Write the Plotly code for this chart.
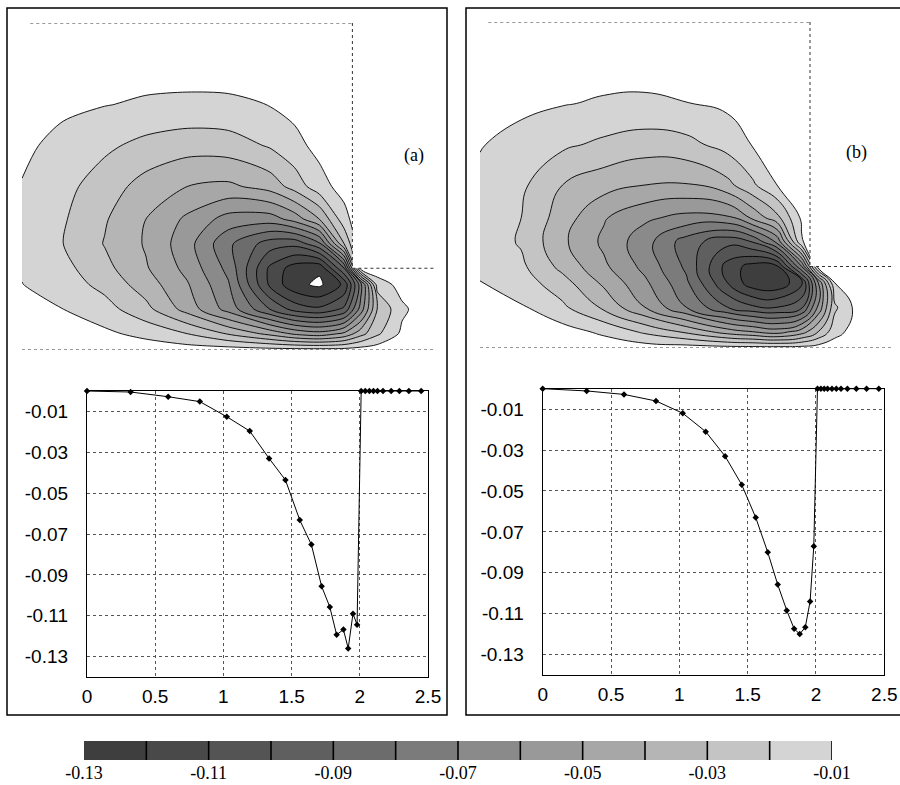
import plotly.graph_objects as go

# ---------------- data ----------------
level_start, level_end, level_step = -0.13, -0.01, 0.01

grid_x = [0, 0.25, 0.5, 0.75, 1.0, 1.25, 1.5, 1.65, 1.8, 1.95, 2.05, 2.15, 2.3, 2.5]
grid_y = [0, 0.1, 0.25, 0.4, 0.5, 0.65, 0.8, 1.0, 1.25, 1.5, 1.75, 2.0]

# panel (a) field, rows follow grid_y, columns follow grid_x
field_a = [
    [-0.002, -0.002, -0.003, -0.004, -0.005, -0.005, -0.006, -0.006, -0.006, -0.006, -0.005, -0.004, -0.003, -0.002],
    [-0.003, -0.005, -0.008, -0.013, -0.020, -0.031, -0.043, -0.052, -0.056, -0.048, -0.034, -0.022, -0.008, -0.002],
    [-0.006, -0.010, -0.016, -0.027, -0.044, -0.064, -0.090, -0.104, -0.108, -0.098, -0.066, -0.030, -0.012, -0.002],
    [-0.0098, -0.015, -0.023, -0.035, -0.049, -0.069, -0.112, -0.127, -0.132, -0.118, -0.075, -0.016, -0.006, -0.002],
    [-0.011, -0.017, -0.027, -0.039, -0.053, -0.073, -0.112, -0.125, -0.128, -0.090, -0.006, -0.003, -0.002, -0.002],
    [-0.013, -0.020, -0.0305, -0.041, -0.056, -0.078, -0.095, -0.097, -0.082, -0.030, -0.002, -0.002, -0.002, -0.002],
    [-0.013, -0.019, -0.029, -0.040, -0.052, -0.064, -0.065, -0.056, -0.040, -0.014, -0.002, -0.002, -0.002, -0.002],
    [-0.0105, -0.017, -0.025, -0.034, -0.040, -0.042, -0.036, -0.026, -0.014, -0.006, -0.002, -0.002, -0.002, -0.002],
    [-0.008, -0.013, -0.018, -0.023, -0.026, -0.025, -0.019, -0.013, -0.007, -0.004, -0.002, -0.002, -0.002, -0.002],
    [-0.005, -0.008, -0.0097, -0.0112, -0.0118, -0.0115, -0.0098, -0.007, -0.004, -0.003, -0.002, -0.002, -0.002, -0.002],
    [-0.003, -0.004, -0.005, -0.006, -0.006, -0.006, -0.005, -0.004, -0.003, -0.002, -0.002, -0.002, -0.002, -0.002],
    [-0.002, -0.002, -0.002, -0.002, -0.002, -0.002, -0.002, -0.002, -0.002, -0.002, -0.002, -0.002, -0.002, -0.002],
]

# panel (b) field
field_b = [
    [-0.002, -0.002, -0.003, -0.004, -0.005, -0.005, -0.006, -0.006, -0.006, -0.006, -0.005, -0.004, -0.002, -0.002],
    [-0.003, -0.004, -0.006, -0.012, -0.022, -0.032, -0.045, -0.050, -0.055, -0.045, -0.030, -0.014, -0.004, -0.002],
    [-0.006, -0.009, -0.018, -0.032, -0.050, -0.070, -0.090, -0.098, -0.100, -0.092, -0.058, -0.022, -0.005, -0.002],
    [-0.0098, -0.015, -0.026, -0.042, -0.058, -0.078, -0.110, -0.126, -0.128, -0.112, -0.060, -0.010, -0.003, -0.002],
    [-0.0115, -0.018, -0.033, -0.048, -0.063, -0.082, -0.114, -0.124, -0.122, -0.070, -0.005, -0.003, -0.002, -0.002],
    [-0.014, -0.021, -0.038, -0.052, -0.066, -0.085, -0.097, -0.090, -0.068, -0.011, -0.002, -0.002, -0.002, -0.002],
    [-0.0135, -0.020, -0.035, -0.049, -0.058, -0.063, -0.062, -0.048, -0.033, -0.008, -0.002, -0.002, -0.002, -0.002],
    [-0.012, -0.018, -0.030, -0.036, -0.040, -0.041, -0.033, -0.022, -0.010, -0.005, -0.002, -0.002, -0.002, -0.002],
    [-0.0095, -0.013, -0.018, -0.022, -0.025, -0.023, -0.016, -0.0095, -0.006, -0.004, -0.002, -0.002, -0.002, -0.002],
    [-0.006, -0.008, -0.0095, -0.011, -0.0115, -0.0102, -0.008, -0.006, -0.004, -0.003, -0.002, -0.002, -0.002, -0.002],
    [-0.003, -0.004, -0.005, -0.006, -0.006, -0.006, -0.005, -0.004, -0.003, -0.002, -0.002, -0.002, -0.002, -0.002],
    [-0.002, -0.002, -0.002, -0.002, -0.002, -0.002, -0.002, -0.002, -0.002, -0.002, -0.002, -0.002, -0.002, -0.002],
]

# profiles (lower plots)
profile_x_a = [0, 0.32, 0.595, 0.827, 1.025, 1.193, 1.335, 1.455, 1.56, 1.645, 1.72, 1.78, 1.83, 1.88,
               1.915, 1.95, 1.98, 2.01, 2.04, 2.07, 2.10, 2.13, 2.17, 2.23, 2.29, 2.36, 2.45]
profile_a = [0, -0.0005, -0.0028, -0.0052, -0.0126, -0.0196, -0.033, -0.0436, -0.0632, -0.0752, -0.0956,
             -0.1057, -0.1193, -0.1168, -0.126, -0.109, -0.1144, 0, 0, 0, 0, 0, 0, 0, 0, 0, 0]

profile_x_b = [0, 0.322, 0.595, 0.829, 1.025, 1.193, 1.335, 1.457, 1.559, 1.647, 1.72, 1.786, 1.84, 1.881,
               1.922, 1.957, 1.984, 2.011, 2.036, 2.06, 2.085, 2.117, 2.149, 2.183, 2.23, 2.295, 2.37, 2.46]
profile_b = [0, -0.0011, -0.0028, -0.006, -0.012, -0.021, -0.033, -0.047, -0.063, -0.080, -0.0958, -0.1084,
             -0.1174, -0.120, -0.1166, -0.104, -0.077, 0, 0, 0, 0, 0, 0, 0, 0, 0, 0, 0]

profile_xticks = [0, 0.5, 1, 1.5, 2, 2.5]
profile_xlabels = ["0", "0.5", "1", "1.5", "2", "2.5"]
profile_yticks = [-0.01, -0.03, -0.05, -0.07, -0.09, -0.11, -0.13]
profile_ylabels = ["-0.01", "-0.03", "-0.05", "-0.07", "-0.09", "-0.11", "-0.13"]

# colour bar
bar_levels = [-0.13, -0.12, -0.11, -0.10, -0.09, -0.08, -0.07, -0.06, -0.05, -0.04, -0.03, -0.02, -0.01]
bar_mids = [-0.125, -0.115, -0.105, -0.095, -0.085, -0.075, -0.065, -0.055, -0.045, -0.035, -0.025, -0.015]
bar_labels = ["-0.13", "", "-0.11", "", "-0.09", "", "-0.07", "", "-0.05", "", "-0.03", "", "-0.01"]

# band colours: below -0.13, the 12 bands, above -0.01
band_colors = ["#ffffff", "#3e3e3e", "#494949", "#545454", "#5f5f5f", "#6c6c6c", "#7b7b7b",
               "#8a8a8a", "#999999", "#a7a7a7", "#b5b5b5", "#c4c4c4", "#d4d4d4", "#ffffff"]

# ---------------- figure ----------------
nb = len(band_colors)
step_scale = []
for j, c in enumerate(band_colors):
    lo = max(0.0, (j - 0.5) / (nb - 1))
    hi = min(1.0, (j + 0.5) / (nb - 1))
    step_scale.append([lo, c])
    step_scale.append([hi, c])

W, H = 900, 785


def px_x(p):
    return p / W


def px_y(p):
    return (H - p) / H


fig = go.Figure()

contour_common = dict(
    colorscale=step_scale, showscale=False, autocontour=False,
    contours=dict(start=level_start, end=level_end, size=level_step, coloring="fill"),
    hoverinfo="skip",
)
fig.add_trace(go.Contour(x=grid_x, y=grid_y, z=field_a, xaxis="x", yaxis="y",
                         line=dict(color="black", width=0.9, smoothing=0.8), **contour_common))
fig.add_trace(go.Contour(x=grid_x, y=grid_y, z=field_b, xaxis="x2", yaxis="y2",
                         line=dict(color="black", width=0.9, smoothing=1.3), **contour_common))

line_style = dict(mode="lines+markers", line=dict(color="black", width=1),
                  marker=dict(symbol="diamond", size=5, color="black"), cliponaxis=False,
                  hoverinfo="skip")
fig.add_trace(go.Scatter(x=profile_x_a, y=profile_a, xaxis="x3", yaxis="y3", **line_style))
fig.add_trace(go.Scatter(x=profile_x_b, y=profile_b, xaxis="x4", yaxis="y4", **line_style))

fig.add_trace(go.Heatmap(x=bar_levels, y=[0, 1], z=[bar_mids], xaxis="x5", yaxis="y5",
                         colorscale=step_scale, zmin=level_start - level_step / 2,
                         zmax=level_end + level_step / 2, showscale=False, hoverinfo="skip"))

hidden = dict(visible=False, showgrid=False, zeroline=False, automargin=False)
prof_font = dict(family="Liberation Sans, Arial, sans-serif", size=19, color="black")
prof_x = dict(range=[0, 2.5], tickvals=profile_xticks, ticktext=profile_xlabels, showgrid=True,
              gridcolor="#555555", griddash="dot", gridwidth=1, showline=True, mirror=True,
              linecolor="black", linewidth=1.2, ticks="", zeroline=False, tickfont=prof_font,
              ticklabelstandoff=2, automargin=False)
prof_y = dict(range=[-0.14, 0], tickvals=profile_yticks, ticktext=profile_ylabels, showgrid=True,
              gridcolor="#555555", griddash="dot", gridwidth=1, showline=True, mirror=True,
              linecolor="black", linewidth=1.2, ticks="", zeroline=False, tickfont=prof_font,
              ticklabelstandoff=14, automargin=False)

fig.update_layout(
    template="none",
    width=W, height=H, margin=dict(l=0, r=0, t=0, b=0, autoexpand=False),
    paper_bgcolor="white", plot_bgcolor="white", showlegend=False,
    xaxis=dict(domain=[px_x(22), px_x(22 + 2.54 * 165.2)], range=[0, 2.54], **hidden),
    yaxis=dict(domain=[px_y(350), px_y(23)], range=[0, 2], **hidden),
    xaxis2=dict(domain=[px_x(480), px_x(480 + 2.54 * 165)], range=[0, 2.54], **hidden),
    yaxis2=dict(domain=[px_y(348), px_y(22)], range=[0, 2], **hidden),
    xaxis3=dict(domain=[px_x(87), px_x(428)], anchor="y3", **prof_x),
    yaxis3=dict(domain=[px_y(677), px_y(391)], anchor="x3", **prof_y),
    xaxis4=dict(domain=[px_x(542.7), px_x(884.3)], anchor="y4", **prof_x),
    yaxis4=dict(domain=[px_y(675), px_y(388.7)], anchor="x4", **prof_y),
    xaxis5=dict(domain=[px_x(84), px_x(832)], range=[bar_levels[0], bar_levels[-1]], anchor="y5",
                tickvals=bar_levels, ticktext=bar_labels, showgrid=False, zeroline=False,
                showline=False, ticks="", automargin=False, ticklabelstandoff=0,
                tickfont=dict(family="Liberation Serif, Times New Roman, serif", size=18, color="black")),
    yaxis5=dict(domain=[px_y(760), px_y(741)], range=[0, 1], anchor="x5", **hidden),
)

shapes = []
# white mask for the area outside the L-shaped domain, then domain outlines
for xr, yr in (("x", "y"), ("x2", "y2")):
    shapes.append(dict(type="rect", xref=xr, yref=yr, x0=2.0, x1=2.6, y0=0.5, y1=2.1,
                       fillcolor="white", line=dict(width=0), layer="above"))
    shapes.append(dict(type="rect", xref=xr, yref=yr, x0=2.47, x1=2.6, y0=-0.05, y1=0.5,
                       fillcolor="white", line=dict(width=0), layer="above"))
    dot = dict(color="#333333", width=1, dash="dot")
    shapes.append(dict(type="line", xref=xr, yref=yr, x0=0.05, x1=2.0, y0=2.0, y1=2.0, line=dot, layer="above"))
    shapes.append(dict(type="line", xref=xr, yref=yr, x0=2.0, x1=2.0, y0=2.0, y1=0.5, line=dot, layer="above"))
    shapes.append(dict(type="line", xref=xr, yref=yr, x0=2.0, x1=2.5, y0=0.5, y1=0.5, line=dot, layer="above"))
    shapes.append(dict(type="line", xref=xr, yref=yr, x0=0.0, x1=2.5, y0=0.0, y1=0.0, line=dot, layer="above"))

# panel frames
shapes.append(dict(type="rect", xref="paper", yref="paper", x0=px_x(7), x1=px_x(447),
                   y0=px_y(715), y1=px_y(8), line=dict(color="black", width=1.5), layer="above"))
shapes.append(dict(type="rect", xref="paper", yref="paper", x0=px_x(466), x1=px_x(915),
                   y0=px_y(715), y1=px_y(8), line=dict(color="black", width=1.5), layer="above"))

# colour bar separators
for lv in bar_levels[1:]:
    shapes.append(dict(type="line", xref="x5", yref="y5", x0=lv, x1=lv, y0=0, y1=1.08,
                       line=dict(color="black", width=1.6), layer="above"))

fig.update_layout(shapes=shapes)

serif = dict(family="Liberation Serif, Times New Roman, serif", size=18, color="black")
fig.add_annotation(x=2.37, y=1.19, xref="x", yref="y", text="(a)", showarrow=False, font=serif)
fig.add_annotation(x=2.28, y=1.20, xref="x2", yref="y2", text="(b)", showarrow=False, font=serif)

fig.write_html("out.html", config={"displayModeBar": False},
               post_script="document.body.style.margin='0px';")
